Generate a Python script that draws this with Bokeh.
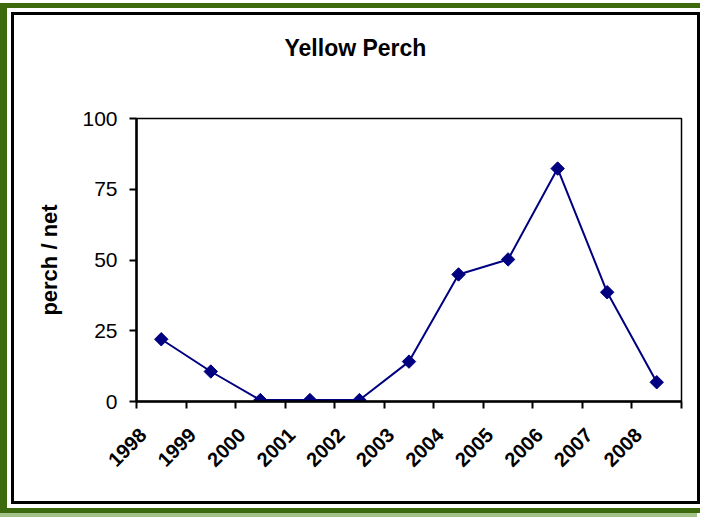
import math
from bokeh.plotting import figure
from bokeh.models import FixedTicker, Range1d, Title
from bokeh.embed import file_html
from bokeh.resources import INLINE

# ---- data ----
years = ["1998", "1999", "2000", "2001", "2002", "2003", "2004", "2005", "2006", "2007", "2008"]
perch_per_net = [22.0, 10.6, 0.5, 0.5, 0.5, 14.1, 44.9, 50.2, 82.3, 38.6, 6.8]
y_ticks = [0, 25, 50, 75, 100]
title_text = "Yellow Perch"
y_label = "perch / net"

n = len(years)
xs = [i + 0.5 for i in range(n)]

W, H = 683, 486
p = figure(width=W, height=H, output_backend="svg", toolbar_location=None,
           x_range=Range1d(0, n), y_range=Range1d(0, 100),
           min_border_left=122, min_border_right=16, min_border_top=103, min_border_bottom=100)
p.margin = (15, 0, 0, 14)
p.styles = {"box-shadow": "0 0 0 3px #000000, 0 0 0 7px #ffffff, -9px 0 0 12px #3d6a0c, -12px 4px 0 12px #a2c287"}

p.background_fill_color = "white"
p.border_fill_color = "white"
p.outline_line_color = "black"
p.outline_line_width = 1.5
p.xgrid.visible = False
p.ygrid.visible = False

# spacer between the title and the plot frame
p.add_layout(Title(text=" ", text_font_size="1px", standoff=37), "above")

# title
p.title.text = title_text
p.title.text_font = "Liberation Sans"
p.title.text_font_style = "bold"
p.title.text_font_size = "23px"
p.title.text_color = "black"
p.title.align = "left"
p.title.offset = 148
p.title.standoff = 35

# x axis: labels offset from boundary ticks (minor ticks at category boundaries)
xa = p.xaxis[0]
lab_pos = [i + 0.13 for i in range(n)]
xa.ticker = FixedTicker(ticks=lab_pos, minor_ticks=list(range(n + 1)))
xa.major_label_overrides = {lp: y for lp, y in zip(lab_pos, years)}
xa.major_label_orientation = math.pi / 4
xa.major_label_text_font = "Liberation Sans"
xa.major_label_text_font_style = "bold"
xa.major_label_text_font_size = "20px"
xa.major_label_text_color = "black"
xa.major_label_standoff = 23
xa.major_tick_out = 0
xa.major_tick_in = 0
xa.major_tick_line_color = None
xa.minor_tick_out = 7
xa.minor_tick_in = 0
xa.minor_tick_line_color = "black"
xa.minor_tick_line_width = 2
xa.axis_line_color = "black"
xa.axis_line_width = 2.5

# y axis
ya = p.yaxis[0]
ya.ticker = FixedTicker(ticks=y_ticks)
ya.axis_label = y_label
ya.axis_label_text_font = "Liberation Sans"
ya.axis_label_text_font_style = "bold"
ya.axis_label_text_font_size = "22px"
ya.axis_label_text_color = "black"
ya.axis_label_standoff = 17
ya.major_label_text_font = "Liberation Sans"
ya.major_label_text_font_size = "21px"
ya.major_label_text_color = "black"
ya.major_label_standoff = 12
ya.major_tick_out = 7
ya.major_tick_in = 0
ya.major_tick_line_color = "black"
ya.major_tick_line_width = 2
ya.minor_tick_line_color = None
ya.axis_line_color = "black"
ya.axis_line_width = 2.5

# series
p.line(xs, perch_per_net, line_color="#000080", line_width=2)
p.scatter(xs, perch_per_net, marker="square", angle=math.pi / 4, size=9.5,
          fill_color="#000080", line_color="#000080")

open("out.html", "w").write(file_html(p, INLINE))
